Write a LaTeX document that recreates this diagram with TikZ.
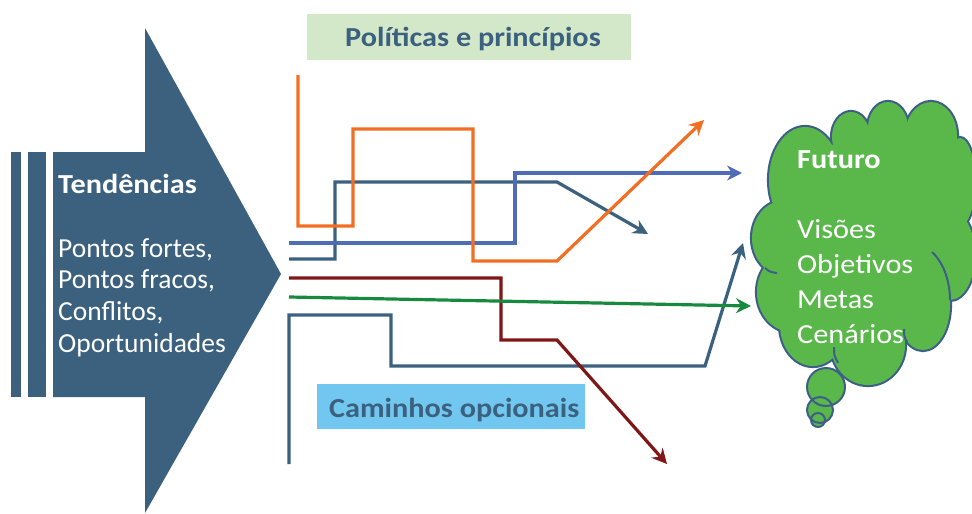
\documentclass[tikz,border=0pt]{standalone}
\usepackage{fontspec}
\setmainfont{Carlito}
\newfontfamily\widefont[FakeStretch=1.1]{Carlito}
\usetikzlibrary{arrows.meta}
\definecolor{slate}{HTML}{3B617F}
\definecolor{orangeL}{HTML}{F26E22}
\definecolor{blueL}{HTML}{4F6CB8}
\definecolor{redL}{HTML}{7F1719}
\definecolor{greenL}{HTML}{178A3F}
\definecolor{cloudfill}{HTML}{5AB84B}
\definecolor{cloudline}{HTML}{3D5F87}
\definecolor{polbg}{HTML}{D3E8C9}
\definecolor{cambg}{HTML}{72C7F0}
\tikzset{
  route/.style={line width=3.2pt},
  tipped/.style={-{Stealth[length=15pt,width=15pt,inset=5pt]}},
  lefttxt/.style={anchor=base west, inner sep=0pt, text=white, font=\fontsize{27.5}{32}\selectfont},
  lefthead/.style={lefttxt, font=\widefont\bfseries\fontsize{27.5}{32}\selectfont},
  cloudtxt/.style={anchor=base west, inner sep=0pt, text=white, font=\widefont\fontsize{27.5}{33}\selectfont},
  cloudhead/.style={cloudtxt, font=\widefont\bfseries\fontsize{27.5}{33}\selectfont},
  labeltxt/.style={inner sep=0pt, text=slate, font=\widefont\bfseries\fontsize{27.5}{32}\selectfont},
  bump/.style={},
  inner arc/.style={draw=cloudline, line width=2pt},
}
\begin{document}
\begin{tikzpicture}[x=1pt,y=-1pt]
\useasboundingbox (0,0) rectangle (972,514);
\clip (0,0) rectangle (972,514);

% ---- big arrow (Tendencias)
\fill[slate] (11,152) rectangle (21,397);
\fill[slate] (28,152) rectangle (46,397);
\fill[slate] (53,152) -- (145,152) -- (145,28) -- (281,274) -- (145,513) -- (145,397) -- (53,397) -- cycle;
\node[lefthead] (tend) at (58,193) {Tendências};
\node[lefttxt] (l1) at (58,257) {Pontos fortes,};
\node[lefttxt] (l2) at (58,288) {Pontos fracos,};
\node[lefttxt] (l3) at (58,320) {Conflitos,};
\node[lefttxt] (l4) at (58,352) {Oportunidades};

% ---- label boxes
\node[fill=polbg, minimum width=324pt, minimum height=46pt, inner sep=0pt] (polbox) at (469,37) {};
\node[labeltxt, anchor=base] (poltxt) at (473,46) {Políticas e princípios};
\node[fill=cambg, minimum width=268pt, minimum height=45pt, inner sep=0pt] (cambox) at (451,406.5) {};
\node[labeltxt, anchor=base west] (camtxt) at (329,417) {Caminhos opcionais};

% ---- cloud (union of bumps)
\def\bumps{%
  \path[bump] (805,180) ellipse[x radius=36pt, y radius=53pt];
  \path[bump] (851,137) ellipse[x radius=19pt, y radius=25pt];
  \path[bump] (888,128) ellipse[x radius=20pt, y radius=26pt];
  \path[bump] (931,136) ellipse[x radius=26pt, y radius=34pt];
  \path[bump] (960,182) ellipse[x radius=15pt, y radius=44pt];
  \path[bump] (950,255) ellipse[x radius=25pt, y radius=45pt];
  \path[bump] (923,305) ellipse[x radius=27pt, y radius=45pt];
  \path[bump] (868,345) ellipse[x radius=37pt, y radius=40pt];
  \path[bump] (813,325) ellipse[x radius=33pt, y radius=41pt];
  \path[bump] (792,292) ellipse[x radius=35pt, y radius=40pt];
  \path[bump] (783,238) ellipse[x radius=31pt, y radius=37pt];
}
\begin{scope}[bump/.style={draw=cloudline, line width=4.2pt}]
  \bumps
\end{scope}
\begin{scope}[bump/.style={fill=cloudfill}]
  \bumps
  \fill[cloudfill] (772,205) -- (832,145) -- (870,132) -- (907,127) -- (955,145)
     -- (966,220) -- (972,240) -- (950,300) -- (903,338) -- (836,352)
     -- (783,332) -- (765,268) -- cycle;
\end{scope}
\draw[inner arc] (765,268) .. controls (770,272) .. (777,273);
\draw[inner arc] (932,252) .. controls (945,264) and (950,284) .. (950,300);
\draw[inner arc] (904,329) .. controls (904,336) .. (907,342);
\draw[inner arc] (834,347) .. controls (834,355) .. (838,363);
% thought bubbles
\fill[cloudfill] (826,387) circle[radius=19pt];
\fill[cloudfill] (820,410) circle[radius=13pt];
\fill[cloudfill] (818,420) circle[radius=7pt];
\draw[cloudline, line width=2pt] (826,387) circle[radius=19pt];
\draw[cloudline, line width=2pt] (820,410) circle[radius=13pt];
\draw[cloudline, line width=2pt] (818,420) circle[radius=7pt];

\node[cloudhead] (fut) at (797,168) {Futuro};
\node[cloudtxt] (c1) at (797,238) {Visões};
\node[cloudtxt] (c2) at (797,273) {Objetivos};
\node[cloudtxt] (c3) at (797,308) {Metas};
\node[cloudtxt] (c4) at (797,343) {Cenários};

% ---- paths
\coordinate (s3S) at (289,464); \coordinate (s3E) at (743,243);
\coordinate (s2S) at (289,259); \coordinate (s2E) at (648,234);
\coordinate (bS) at (289,243);  \coordinate (bE) at (742,173);
\coordinate (rS) at (289,278);  \coordinate (rE) at (667,464);
\coordinate (gS) at (289,297);  \coordinate (gE) at (751,306);
\coordinate (oS) at (298,75);   \coordinate (oE) at (704,120);

\draw[route, slate, tipped] (s3S) -- (289,315) -- (391,315) -- (391,366) -- (705,366) -- (s3E);
\draw[route, slate, tipped] (s2S) -- (335,259) -- (335,182) -- (557,182) -- (s2E);
\draw[route, blueL, tipped] (bS) -- (515,243) -- (515,173) -- (bE);
\draw[route, redL, tipped] (rS) -- (501,278) -- (501,340) -- (557,340) -- (rE);
\draw[route, greenL, tipped] (gS) -- (gE);
\draw[route, orangeL, tipped] (oS) -- (298,226) -- (353,226) -- (353,129) -- (473,129) -- (473,261) -- (557,261) -- (oE);
\end{tikzpicture}
\end{document}
